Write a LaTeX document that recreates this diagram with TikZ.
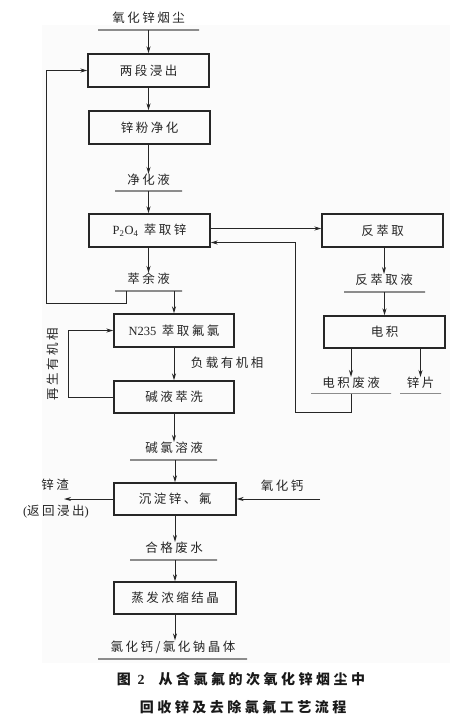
\documentclass[tikz,border=0pt]{standalone}
\usepackage{fontspec}
\setmainfont{Liberation Serif}
\newfontfamily\cjk{Noto Sans CJK SC}[LetterSpace=20]
\newfontfamily\cjkcap{Noto Sans CJK SC}[LetterSpace=25]
\usetikzlibrary{arrows.meta,calc}
\tikzset{
  box/.style={draw=black!85, line width=1.3pt, minimum width=121pt, minimum height=33pt, inner sep=0pt, font=\fontsize{12.5}{14}\selectfont\cjk, text=black!85},
  lbl/.style={inner sep=0pt, font=\fontsize{12.5}{14}\selectfont\cjk, text=black!85},
  ubar/.style={draw=black!45, line width=1.1pt, minimum height=0pt, inner sep=0pt},
  flow/.style={line width=1pt, draw=black!85},
  arr/.style={flow, -{Stealth[length=7pt,width=4pt]}},
  captxt/.style={inner sep=0pt, font=\fontsize{14}{16}\selectfont\cjkcap\bfseries, text=black!90},
}
\begin{document}
\begin{tikzpicture}[x=1pt,y=-1pt]
\useasboundingbox (0,0) rectangle (466,725);
\fill[black!1.5] (42,25) rectangle (450,663);

% boxes
\node[box] (b1) at (148.5,70.5) {两段浸出};
\node[box] (b2) at (149.5,127.5) {锌粉净化};
\node[box] (b3) at (149.5,230.5) {{\rmfamily P\textsubscript{2}O\textsubscript{4}}\ 萃取锌};
\node[box] (b4) at (382.5,230.5) {反萃取};
\node[box, minimum width=120pt] (b5) at (174,330.5) {{\rmfamily N235}\ 萃取氟氯};
\node[box, minimum width=120pt, minimum height=32pt] (b6) at (174,397) {碱液萃洗};
\node[box, minimum height=32pt] (b7) at (384.5,332) {电积};
\node[box, minimum width=122pt, minimum height=32pt] (b8) at (175,499) {沉淀锌、氟};
\node[box, minimum width=122pt, minimum height=32pt] (b9) at (175,598) {蒸发浓缩结晶};

% labels with underlines
\node[lbl] (t1) at (148.5,18) {氧化锌烟尘};
\node[ubar, minimum width=101pt] (u1) at (148.5,30) {};
\node[lbl] (t2) at (148.5,180) {净化液};
\node[ubar, minimum width=67pt] (u2) at (148.5,191) {};
\node[lbl] (t3) at (148.5,279) {萃余液};
\node[ubar, minimum width=67pt] (u3) at (148.5,291) {};
\node[lbl] (t4) at (384,280) {反萃取液};
\node[ubar, minimum width=81pt] (u4) at (384.5,292) {};
\node[lbl] (t5) at (351,383) {电积废液};
\node[ubar, minimum width=80pt] (u5) at (351,393.5) {};
\node[lbl] (t6) at (420.5,383) {锌片};
\node[ubar, minimum width=41pt] (u6) at (420.5,393.5) {};
\node[lbl] (t7) at (174,448) {碱氯溶液};
\node[ubar, minimum width=87pt] (u7) at (173.5,460) {};
\node[lbl] (t8) at (174,548) {合格废水};
\node[ubar, minimum width=87pt] (u8) at (173.5,560) {};
\node[lbl] (t9) at (173,647) {氯化钙/氯化钠晶体};
\node[ubar, minimum width=149pt] (u9) at (172.5,659) {};

% free labels
\node[lbl] (l1) at (227,363) {负载有机相};
\node[lbl, rotate=90] (l2) at (53,364) {再生有机相};
\node[lbl] (l3) at (55,485) {锌渣};
\node[lbl] (l4) at (56,512) {{\rmfamily (}返回浸出{\rmfamily )}};
\node[lbl] (l5) at (282,486) {氧化钙};

% caption
\node[captxt] (c1) at (241,679) {图 {\rmfamily 2}\quad 从含氯氟的次氧化锌烟尘中};
\node[captxt] (c2) at (243,707) {回收锌及去除氯氟工艺流程};

% coordinates
\coordinate (fbA) at (126,291);
\coordinate (fbB) at (46,303);
\coordinate (rt) at (295,412);
\coordinate (lp) at (68,397);
\coordinate (zz) at (64,499);
\coordinate (cao) at (320,499);

% main column
\draw[arr] (u1.center) -- (b1.north);
\draw[arr] (b1.south) -- (b1.south |- b2.north);
\draw[arr] (b2.south -| u2) -- (t2.north);
\draw[arr] (u2.center) -- (b3.north -| u2);
\draw[arr] (b3.south -| t3) -- (t3.north);
\draw[arr] (b5.north |- u3.center) -- (b5.north);
\draw[flow] (fbA) |- (fbB);
\draw[arr] (fbB) |- (b1.west);
\draw[arr] (b5.south) -- (b6.north);
\draw[flow] (b6.west) -- (lp);
\draw[arr] (lp) |- (b5.west);
\draw[arr] (b6.south) -- (b6.south |- t7.north);
\draw[arr] (b8.north |- u7.center) -- (b8.north);
\draw[arr] (b8.west) -- (zz);
\draw[arr] (cao) -- (b8.east);
\draw[arr] (b8.south) -- (b8.south |- t8.north);
\draw[arr] (b9.north |- u8.center) -- (b9.north);
\draw[arr] (b9.south) -- (b9.south |- t9.north);

% right branch
\draw[arr] ([yshift=2pt]b3.east) -- ([yshift=2pt]b4.west);
\draw[arr] (b4.south -| t4) -- (t4.north);
\draw[arr] (u4.center) -- (b7.north -| u4);
\draw[arr] (b7.south -| t5) -- (t5.north);
\draw[arr] (b7.south -| t6) -- (t6.north);
\draw[flow] (u5.center) |- (rt);
\draw[arr] (rt) |- ([yshift=-12pt]b3.east);
\end{tikzpicture}
\end{document}
